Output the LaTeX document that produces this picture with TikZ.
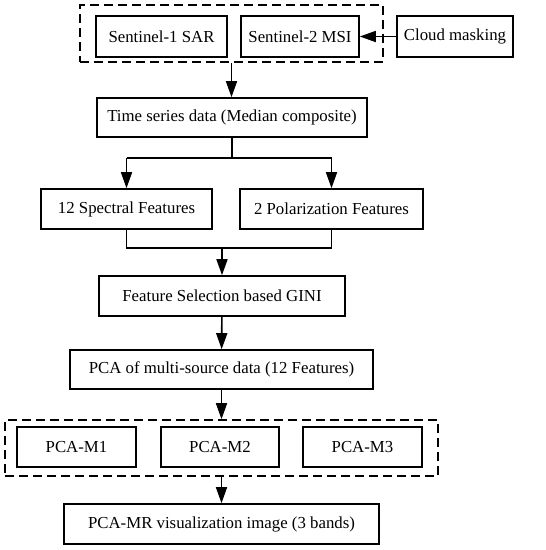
\documentclass[tikz,border=0pt]{standalone}
\usepackage{fontspec}
\setmainfont{Liberation Serif}
\usetikzlibrary{arrows.meta}
\tikzset{
  box/.style={draw, line width=1.6pt, rectangle, inner sep=0pt, minimum height=40pt,
    font=\fontsize{16.8}{20}\selectfont},
  grp/.style={draw, line width=1.6pt, dash pattern=on 9pt off 5pt, rectangle, inner sep=0pt},
  link/.style={line width=1.6pt},
  flow/.style={line width=1.6pt, -{Triangle[length=16pt,width=11pt]}}
}
\begin{document}
\begin{tikzpicture}[x=1pt,y=-1pt]
  \useasboundingbox (0,0) rectangle (546,550);
  % sources
  \node[grp, minimum width=303pt, minimum height=57pt] (src) at (231.5,33.5) {};
  \node[box, minimum width=131pt, minimum height=41pt] (s1) at (161.5,36.5) {Sentinel-1 SAR};
  \node[box, minimum width=118pt, minimum height=41pt] (s2) at (300,36.5) {Sentinel-2 MSI};
  \node[box, minimum width=116pt, minimum height=41pt] (cloud) at (455,36.5) {Cloud masking};
  \node[box, minimum width=270pt, minimum height=39pt] (ts) at (232,117.5) {Time series data (Median composite)};
  % features
  \node[box, minimum width=171pt] (spec) at (126.5,209) {12 Spectral Features};
  \node[box, minimum width=183pt] (pol) at (331.5,209) {2 Polarization Features};
  \node[box, minimum width=246pt] (gini) at (222,296) {Feature Selection based GINI};
  \node[box, minimum width=303pt, minimum height=39pt] (pca) at (221.5,369.5) {PCA of multi-source data (12 Features)};
  % models
  \node[grp, minimum width=433pt, minimum height=56pt] (mods) at (221.5,448) {};
  \node[box, minimum width=119pt] (m1) at (76.5,447) {PCA-M1};
  \node[box, minimum width=118pt] (m2) at (220,447) {PCA-M2};
  \node[box, minimum width=119pt] (m3) at (362.5,447) {PCA-M3};
  \node[box, minimum width=315pt] (out) at (221.5,524) {PCA-MR visualization image (3 bands)};
  % connectors
  \draw[flow] (cloud) -- (s2);
  \draw[flow] (src.south) -- (src.south |- ts.north);
  \draw[link] (ts.south) -- ++(0,20) coordinate (split);
  \draw[link] (spec.north |- split) -- (pol.north |- split);
  \draw[flow] (spec.north |- split) -- (spec.north);
  \draw[flow] (pol.north |- split) -- (pol.north);
  \draw[link] (spec.south) -- ++(0,18) coordinate (merge) -- (pol.south |- merge) -- (pol.south);
  \draw[flow] (gini.north |- merge) -- (gini.north);
  \draw[flow] (gini) -- (pca);
  \draw[flow] (pca.south) -- (mods.north);
  \draw[flow] (mods.south) -- (out.north);
\end{tikzpicture}
\end{document}
